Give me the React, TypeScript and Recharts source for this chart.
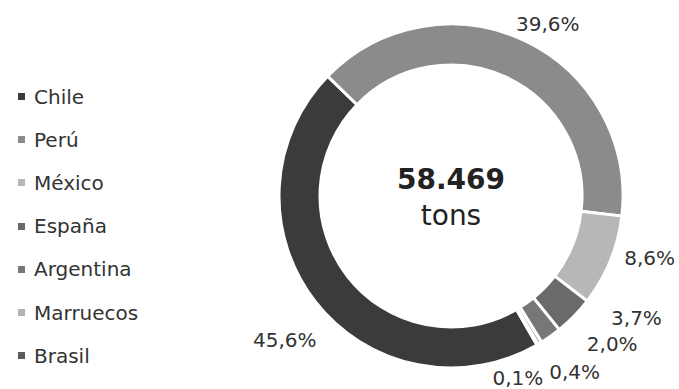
import React from 'react';
import { PieChart, Pie, Cell } from 'recharts';

const countries = ['Chile', 'Perú', 'México', 'España', 'Argentina', 'Marruecos', 'Brasil'];
const shares = [45.6, 39.6, 8.6, 3.7, 2.0, 0.4, 0.1];
const COLORS = ['#3b3b3b', '#8b8b8b', '#b7b7b7', '#6a6a6a', '#777777', '#b2b2b2', '#5c5c5c'];
const totalLines = ['58.469', 'tons'];

// label nudges so the small slices don't overlap: [angle shift (deg, clockwise), distance past ring]
const LABEL_NUDGE: [number, number][] = [
  [-3, 48],
  [4, 25],
  [-5, 36],
  [-11, 50],
  [-12, 47],
  [-4, 43],
  [10, 22],
];

const FONT = '"DejaVu Sans", Verdana, sans-serif';
const RAD = Math.PI / 180;
const CX = 451;
const CY = 196;

const data = countries.map((name, i) => ({ name, value: shares[i] }));

const renderLabel = (props: any) => {
  const { cx, cy, midAngle, outerRadius, value, index } = props;
  const [shift, extra] = LABEL_NUDGE[index];
  const angle = midAngle - shift;
  const r = outerRadius + extra;
  const x = cx + r * Math.cos(-angle * RAD);
  const y = cy + r * Math.sin(-angle * RAD);
  return (
    <text
      x={x}
      y={y}
      textAnchor="middle"
      dominantBaseline="central"
      fill="#333"
      fontSize={20}
      fontFamily={FONT}
    >
      {value.toFixed(1).replace('.', ',') + '%'}
    </text>
  );
};

// plain html legend so it doesn't push the pie around
const SideLegend = () => (
  <ul style={{ position: 'absolute', left: 18, top: 75, listStyle: 'none', margin: 0, padding: 0 }}>
    {countries.map((name, i) => (
      <li
        key={`item-${i}`}
        style={{
          height: 43.2,
          display: 'flex',
          alignItems: 'center',
          fontFamily: FONT,
          fontSize: 20,
          color: '#333',
        }}
      >
        <span
          style={{
            display: 'inline-block',
            width: 7,
            height: 7,
            background: COLORS[i],
            marginRight: 9,
          }}
        />
        {name}
      </li>
    ))}
  </ul>
);

export default function App() {
  return (
    <div style={{ position: 'absolute', left: 0, top: 0, width: 679, height: 389, background: '#fff' }}>
      <PieChart width={679} height={389} margin={{ top: 0, right: 0, bottom: 0, left: 0 }}>
        <Pie
          data={data}
          dataKey="value"
          nameKey="name"
          cx={CX}
          cy={CY}
          innerRadius={131}
          outerRadius={172}
          startAngle={-60}
          endAngle={-420}
          stroke="#fff"
          strokeWidth={3}
          label={renderLabel}
          labelLine={false}
          isAnimationActive={false}
        >
          {data.map((entry, index) => (
            <Cell key={`cell-${index}`} fill={COLORS[index]} />
          ))}
        </Pie>
        <text
          x={CX}
          y={CY - 17}
          textAnchor="middle"
          dominantBaseline="central"
          fill="#222"
          fontSize={28}
          fontWeight="bold"
          fontFamily={FONT}
        >
          {totalLines[0]}
        </text>
        <text
          x={CX}
          y={CY + 19}
          textAnchor="middle"
          dominantBaseline="central"
          fill="#222"
          fontSize={28}
          fontFamily={FONT}
        >
          {totalLines[1]}
        </text>
      </PieChart>
      <SideLegend />
    </div>
  );
}
